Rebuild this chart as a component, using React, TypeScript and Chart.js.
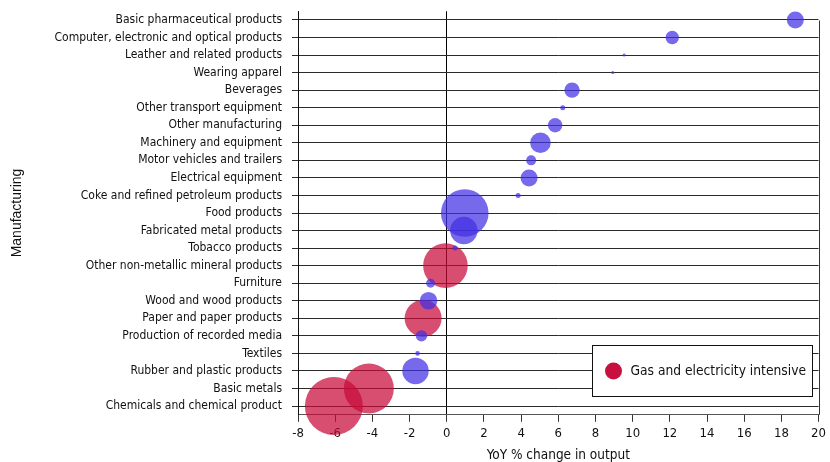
import React, { useEffect, useRef } from "react";
import { Chart, registerables } from "chart.js";

Chart.register(...registerables);

const categories = [
  "Basic pharmaceutical products",
  "Computer, electronic and optical products",
  "Leather and related products",
  "Wearing apparel",
  "Beverages",
  "Other transport equipment",
  "Other manufacturing",
  "Machinery and equipment",
  "Motor vehicles and trailers",
  "Electrical equipment",
  "Coke and refined petroleum products",
  "Food products",
  "Fabricated metal products",
  "Tobacco products",
  "Other non-metallic mineral products",
  "Furniture",
  "Wood and wood products",
  "Paper and paper products",
  "Production of recorded media",
  "Textiles",
  "Rubber and plastic products",
  "Basic metals",
  "Chemicals and chemical product",
];

const yoyChange = [
  18.75, 12.13, 9.54, 8.93, 6.74, 6.24, 5.83, 5.04, 4.54, 4.43, 3.84, 0.97, 0.92,
  0.44, -0.07, -0.87, -0.98, -1.27, -1.36, -1.57, -1.68, -4.19, -6.07,
];

const bubbleSize = [
  8.5, 6.7, 1.5, 1.5, 7.7, 2.5, 7.2, 10.3, 5, 8.5, 2.5, 23.8, 13.7, 2.5, 22.3,
  4.5, 8.8, 18.5, 5.7, 2.3, 13.2, 25, 29,
];

const gasElectricityIntensive = [
  false, false, false, false, false, false, false, false, false, false, false,
  false, false, false, true, false, false, true, false, false, false, true, true,
];

const xTickMin = -8;
const xTickMax = 20;
const xTickStep = 2;

const intensiveLabel = "Gas and electricity intensive";
const otherLabel = "Other";
const xTitle = "YoY % change in output";
const yTitle = "Manufacturing";

const BLUE = "rgba(67,47,227,0.72)";
const RED = "rgba(200,10,57,0.72)";
const RED_SOLID = "rgb(200,16,62)";
const NARROW = "'Liberation Sans Narrow', 'DejaVu Sans Condensed', sans-serif";

const rightBorderPlugin = {
  id: "rightBorder",
  beforeDatasetsDraw(chart: any) {
    const { ctx, chartArea } = chart;
    const y = chart.scales.y;
    const top = y.getPixelForValue(0);
    const x = Math.round(chartArea.right) + 0.5;
    ctx.save();
    ctx.strokeStyle = "#333";
    ctx.lineWidth = 1;
    ctx.beginPath();
    ctx.moveTo(x, Math.round(top) + 0.5);
    ctx.lineTo(x, chartArea.bottom);
    ctx.stroke();
    ctx.restore();
  },
};

const boxLegendPlugin = {
  id: "boxLegend",
  afterDraw(chart: any) {
    const { ctx, chartArea } = chart;
    const w = 220;
    const h = 51;
    const x = Math.round(chartArea.right - 7 - w) + 0.5;
    const y = Math.round(chartArea.bottom - 19 - h) + 0.5;
    ctx.save();
    ctx.fillStyle = "#fff";
    ctx.fillRect(x, y, w, h);
    ctx.strokeStyle = "#111";
    ctx.lineWidth = 1;
    ctx.strokeRect(x, y, w, h);
    ctx.fillStyle = RED_SOLID;
    ctx.beginPath();
    ctx.arc(x + 21, y + h / 2, 8.5, 0, Math.PI * 2);
    ctx.fill();
    ctx.fillStyle = "#111";
    ctx.font = `13.7px ${NARROW}`;
    ctx.textBaseline = "middle";
    ctx.textAlign = "left";
    const label = chart.data.datasets[1].label;
    ctx.fillText(label, x + 38, y + h / 2 + 0.5);
    ctx.restore();
  },
};

export default function App() {
  const canvasRef = useRef<HTMLCanvasElement | null>(null);

  useEffect(() => {
    document.body.style.margin = "0";
    const canvas = canvasRef.current;
    if (!canvas) return;

    const blueData: any[] = [];
    const redData: any[] = [];
    categories.forEach((c, i) => {
      const pt = { x: yoyChange[i], y: c, r: bubbleSize[i] };
      if (gasElectricityIntensive[i]) redData.push(pt);
      else blueData.push(pt);
    });

    const chart = new Chart(canvas, {
      type: "bubble",
      data: {
        datasets: [
          {
            label: otherLabel,
            data: blueData,
            backgroundColor: BLUE,
            borderWidth: 0,
            clip: false as any,
          },
          {
            label: intensiveLabel,
            data: redData,
            backgroundColor: RED,
            borderWidth: 0,
            clip: false as any,
          },
        ],
      },
      plugins: [rightBorderPlugin, boxLegendPlugin],
      options: {
        responsive: false,
        animation: false,
        layout: { autoPadding: false, padding: { left: 0, right: 11, top: 11.2, bottom: 0 } },
        plugins: {
          legend: { display: false },
          tooltip: { enabled: false },
        },
        scales: {
          x: {
            type: "linear",
            min: xTickMin,
            max: xTickMax,
            ticks: {
              stepSize: xTickStep,
              color: "#111",
              font: { family: NARROW, size: 13 },
              padding: 4,
            },
            grid: {
              color: (ctx: any) =>
                ctx.tick && ctx.tick.value === 0 ? "#000" : "rgba(0,0,0,0)",
              tickColor: "#333",
              tickLength: 7,
              lineWidth: 1,
            },
            border: { display: true, color: "#555" },
            title: {
              display: true,
              text: xTitle,
              color: "#111",
              font: { family: NARROW, size: 13.5, lineHeight: 1 },
              padding: { top: 4, bottom: 0 },
            },
            afterFit: (s: any) => {
              s.height = 47.2;
            },
          },
          y: {
            type: "category",
            labels: categories,
            offset: true,
            ticks: {
              autoSkip: false,
              color: "#111",
              font: { family: NARROW, size: 12 },
              padding: 10,
            },
            grid: {
              offset: false,
              color: "#2a2a2a",
              lineWidth: 1,
              tickLength: 6,
            },
            border: { display: true, color: "#111" },
            title: {
              display: true,
              text: yTitle,
              color: "#111",
              font: { family: "'Liberation Sans', Arial, sans-serif", size: 14 },
              padding: { top: 9, bottom: 0 },
            },
            afterFit: (s: any) => {
              s.width = 298;
              s.paddingTop = 0;
              s.paddingBottom = 0;
            },
          },
        },
      } as any,
    });

    return () => {
      chart.destroy();
    };
  }, []);

  return (
    <div style={{ width: 830, height: 462, position: "relative" }}>
      <canvas ref={canvasRef} width={830} height={462} style={{ display: "block" }} />
    </div>
  );
}
